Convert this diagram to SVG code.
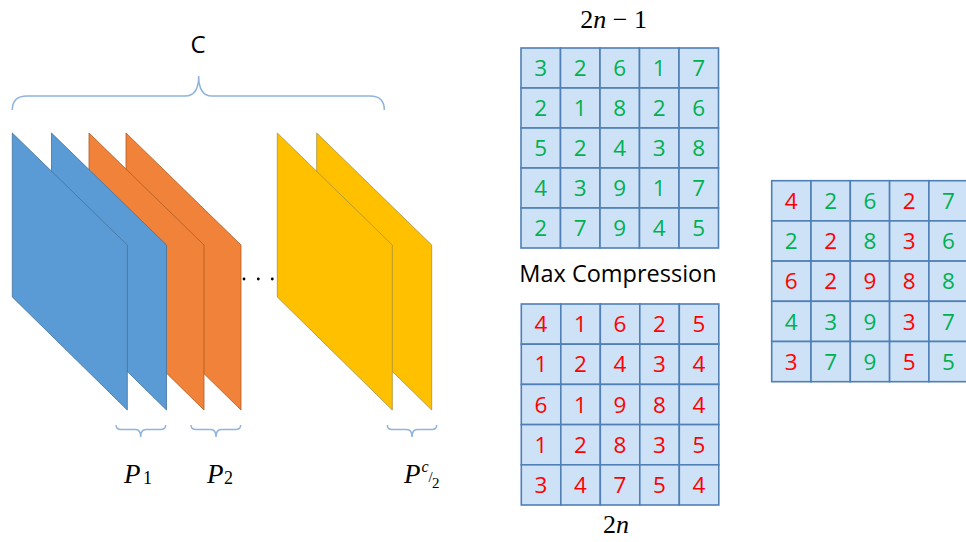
<svg xmlns="http://www.w3.org/2000/svg" width="966" height="542" viewBox="0 0 966 542">
<style>
.lbl{font-family:"Open Sans","Noto Sans","Liberation Sans",sans-serif;fill:#000}
.math{font-family:"Liberation Serif","DejaVu Serif",serif;fill:#000;font-weight:normal}
.it{font-style:italic}
.cell{fill:#cde2f7;stroke:#4f7fb5;stroke-width:1.6}
.d{font-family:"Open Sans","Noto Sans","Liberation Sans",sans-serif;font-size:22.5px;text-anchor:middle}
.g{fill:#00b050}
.r{fill:#ff0000}
.brace{fill:none;stroke:#8fb4de;stroke-width:1.5}
.pb{fill:#5b9bd5;stroke:#41719c;stroke-width:0.8}
.po{fill:#f0823a;stroke:#ae5a21;stroke-width:0.8}
.py{fill:#ffc000;stroke:#a89040;stroke-width:0.8}
</style>
<defs>
<path id="para" d="M0,0 L115,112 L115,277 L0,164 Z"/>
</defs>
<rect width="966" height="542" fill="#fff"/>

<g id="label-C"><text class="lbl" x="198" y="52.5" font-size="24" text-anchor="middle">C</text></g>

<g id="channels">
<g id="yellow2"><use href="#para" x="316.7" y="133" class="py"/></g>
<g id="yellow1"><use href="#para" x="277.3" y="133" class="py"/></g>
<g id="orange2"><use href="#para" x="126" y="133" class="po"/></g>
<g id="orange1"><use href="#para" x="89" y="133" class="po"/></g>
<g id="blue2"><use href="#para" x="51.5" y="133" class="pb"/></g>
<g id="blue1"><use href="#para" x="12.3" y="133" class="pb"/></g>
<g id="dots" fill="#000">
<circle cx="244" cy="279" r="1.4"/><circle cx="258.3" cy="279" r="1.4"/><circle cx="272.3" cy="279" r="1.4"/>
</g>
</g>

<g id="connectors">
<path class="brace" d="M12.3,110 Q12.3,96 27,96 L185,96 Q198.7,96 198.7,76 Q198.7,96 212,96 L370,96 Q384.3,96 384.3,110"/>
<path class="brace" d="M116,425 Q116,429.5 121,429.5 L135.5,429.5 Q140.7,429.5 140.7,437 Q140.7,429.5 146,429.5 L160.5,429.5 Q165.7,429.5 165.7,425"/>
<path class="brace" d="M191,425 Q191,429.5 196,429.5 L210.8,429.5 Q216,429.5 216,437 Q216,429.5 221.2,429.5 L235.5,429.5 Q240.7,429.5 240.7,425"/>
<path class="brace" d="M387.3,425 Q387.3,429.5 392.3,429.5 L406.8,429.5 Q412,429.5 412,437 Q412,429.5 417.2,429.5 L431.7,429.5 Q436.7,429.5 436.7,425"/>
</g>

<g id="label-P1"><text class="math it" x="124" y="483" font-size="27">P</text><text class="math" x="143" y="484" font-size="18">1</text></g>
<g id="label-P2"><text class="math it" x="207" y="483" font-size="27">P</text><text class="math" x="224" y="484" font-size="18">2</text></g>
<g id="label-Pc2"><text class="math it" x="404" y="483" font-size="27">P</text><text class="math it" x="421.5" y="472" font-size="16">c</text><text class="math" x="428.5" y="482" font-size="15">/</text><text class="math" x="432" y="488" font-size="15">2</text></g>

<g id="label-2n-1"><text class="math" x="613.7" y="28" font-size="26" text-anchor="middle">2<tspan class="it">n</tspan> − 1</text></g>
<g id="label-max"><text class="lbl" x="618" y="281.7" font-size="23.5" text-anchor="middle">Max Compression</text></g>
<g id="label-2n"><text class="math" x="616" y="533.3" font-size="26" text-anchor="middle">2<tspan class="it">n</tspan></text></g>

<g id="grid-top">
<rect class="cell" x="521" y="48" width="39.5" height="40"/><rect class="cell" x="560.5" y="48" width="39.5" height="40"/><rect class="cell" x="600" y="48" width="39.5" height="40"/><rect class="cell" x="639.5" y="48" width="39.5" height="40"/><rect class="cell" x="679" y="48" width="39.5" height="40"/>
<rect class="cell" x="521" y="88" width="39.5" height="40"/><rect class="cell" x="560.5" y="88" width="39.5" height="40"/><rect class="cell" x="600" y="88" width="39.5" height="40"/><rect class="cell" x="639.5" y="88" width="39.5" height="40"/><rect class="cell" x="679" y="88" width="39.5" height="40"/>
<rect class="cell" x="521" y="128" width="39.5" height="40"/><rect class="cell" x="560.5" y="128" width="39.5" height="40"/><rect class="cell" x="600" y="128" width="39.5" height="40"/><rect class="cell" x="639.5" y="128" width="39.5" height="40"/><rect class="cell" x="679" y="128" width="39.5" height="40"/>
<rect class="cell" x="521" y="168" width="39.5" height="40"/><rect class="cell" x="560.5" y="168" width="39.5" height="40"/><rect class="cell" x="600" y="168" width="39.5" height="40"/><rect class="cell" x="639.5" y="168" width="39.5" height="40"/><rect class="cell" x="679" y="168" width="39.5" height="40"/>
<rect class="cell" x="521" y="208" width="39.5" height="40"/><rect class="cell" x="560.5" y="208" width="39.5" height="40"/><rect class="cell" x="600" y="208" width="39.5" height="40"/><rect class="cell" x="639.5" y="208" width="39.5" height="40"/><rect class="cell" x="679" y="208" width="39.5" height="40"/>
<g class="d g">
<text x="540.8" y="76">3</text><text x="580.3" y="76">2</text><text x="619.8" y="76">6</text><text x="659.3" y="76">1</text><text x="698.8" y="76">7</text>
<text x="540.8" y="116">2</text><text x="580.3" y="116">1</text><text x="619.8" y="116">8</text><text x="659.3" y="116">2</text><text x="698.8" y="116">6</text>
<text x="540.8" y="156">5</text><text x="580.3" y="156">2</text><text x="619.8" y="156">4</text><text x="659.3" y="156">3</text><text x="698.8" y="156">8</text>
<text x="540.8" y="196">4</text><text x="580.3" y="196">3</text><text x="619.8" y="196">9</text><text x="659.3" y="196">1</text><text x="698.8" y="196">7</text>
<text x="540.8" y="236">2</text><text x="580.3" y="236">7</text><text x="619.8" y="236">9</text><text x="659.3" y="236">4</text><text x="698.8" y="236">5</text>
</g>
</g>

<g id="grid-bottom">
<rect class="cell" x="521.3" y="304" width="39.5" height="40.2"/><rect class="cell" x="560.8" y="304" width="39.5" height="40.2"/><rect class="cell" x="600.3" y="304" width="39.5" height="40.2"/><rect class="cell" x="639.8" y="304" width="39.5" height="40.2"/><rect class="cell" x="679.3" y="304" width="39.5" height="40.2"/>
<rect class="cell" x="521.3" y="344.2" width="39.5" height="40.2"/><rect class="cell" x="560.8" y="344.2" width="39.5" height="40.2"/><rect class="cell" x="600.3" y="344.2" width="39.5" height="40.2"/><rect class="cell" x="639.8" y="344.2" width="39.5" height="40.2"/><rect class="cell" x="679.3" y="344.2" width="39.5" height="40.2"/>
<rect class="cell" x="521.3" y="384.4" width="39.5" height="40.2"/><rect class="cell" x="560.8" y="384.4" width="39.5" height="40.2"/><rect class="cell" x="600.3" y="384.4" width="39.5" height="40.2"/><rect class="cell" x="639.8" y="384.4" width="39.5" height="40.2"/><rect class="cell" x="679.3" y="384.4" width="39.5" height="40.2"/>
<rect class="cell" x="521.3" y="424.6" width="39.5" height="40.2"/><rect class="cell" x="560.8" y="424.6" width="39.5" height="40.2"/><rect class="cell" x="600.3" y="424.6" width="39.5" height="40.2"/><rect class="cell" x="639.8" y="424.6" width="39.5" height="40.2"/><rect class="cell" x="679.3" y="424.6" width="39.5" height="40.2"/>
<rect class="cell" x="521.3" y="464.8" width="39.5" height="40.2"/><rect class="cell" x="560.8" y="464.8" width="39.5" height="40.2"/><rect class="cell" x="600.3" y="464.8" width="39.5" height="40.2"/><rect class="cell" x="639.8" y="464.8" width="39.5" height="40.2"/><rect class="cell" x="679.3" y="464.8" width="39.5" height="40.2"/>
<g class="d r">
<text x="541" y="332.2">4</text><text x="580.5" y="332.2">1</text><text x="620" y="332.2">6</text><text x="659.5" y="332.2">2</text><text x="699" y="332.2">5</text>
<text x="541" y="372.4">1</text><text x="580.5" y="372.4">2</text><text x="620" y="372.4">4</text><text x="659.5" y="372.4">3</text><text x="699" y="372.4">4</text>
<text x="541" y="412.6">6</text><text x="580.5" y="412.6">1</text><text x="620" y="412.6">9</text><text x="659.5" y="412.6">8</text><text x="699" y="412.6">4</text>
<text x="541" y="452.8">1</text><text x="580.5" y="452.8">2</text><text x="620" y="452.8">8</text><text x="659.5" y="452.8">3</text><text x="699" y="452.8">5</text>
<text x="541" y="493">3</text><text x="580.5" y="493">4</text><text x="620" y="493">7</text><text x="659.5" y="493">5</text><text x="699" y="493">4</text>
</g>
</g>

<g id="grid-result">
<rect class="cell" x="771.7" y="180.7" width="39.3" height="40.2"/><rect class="cell" x="811" y="180.7" width="39.3" height="40.2"/><rect class="cell" x="850.3" y="180.7" width="39.3" height="40.2"/><rect class="cell" x="889.6" y="180.7" width="39.3" height="40.2"/><rect class="cell" x="928.9" y="180.7" width="39.3" height="40.2"/>
<rect class="cell" x="771.7" y="220.9" width="39.3" height="40.2"/><rect class="cell" x="811" y="220.9" width="39.3" height="40.2"/><rect class="cell" x="850.3" y="220.9" width="39.3" height="40.2"/><rect class="cell" x="889.6" y="220.9" width="39.3" height="40.2"/><rect class="cell" x="928.9" y="220.9" width="39.3" height="40.2"/>
<rect class="cell" x="771.7" y="261.1" width="39.3" height="40.2"/><rect class="cell" x="811" y="261.1" width="39.3" height="40.2"/><rect class="cell" x="850.3" y="261.1" width="39.3" height="40.2"/><rect class="cell" x="889.6" y="261.1" width="39.3" height="40.2"/><rect class="cell" x="928.9" y="261.1" width="39.3" height="40.2"/>
<rect class="cell" x="771.7" y="301.3" width="39.3" height="40.2"/><rect class="cell" x="811" y="301.3" width="39.3" height="40.2"/><rect class="cell" x="850.3" y="301.3" width="39.3" height="40.2"/><rect class="cell" x="889.6" y="301.3" width="39.3" height="40.2"/><rect class="cell" x="928.9" y="301.3" width="39.3" height="40.2"/>
<rect class="cell" x="771.7" y="341.5" width="39.3" height="40.2"/><rect class="cell" x="811" y="341.5" width="39.3" height="40.2"/><rect class="cell" x="850.3" y="341.5" width="39.3" height="40.2"/><rect class="cell" x="889.6" y="341.5" width="39.3" height="40.2"/><rect class="cell" x="928.9" y="341.5" width="39.3" height="40.2"/>
<g class="d">
<text class="r" x="791.3" y="208.9">4</text><text class="g" x="830.6" y="208.9">2</text><text class="g" x="869.9" y="208.9">6</text><text class="r" x="909.2" y="208.9">2</text><text class="g" x="948.5" y="208.9">7</text>
<text class="g" x="791.3" y="249.1">2</text><text class="r" x="830.6" y="249.1">2</text><text class="g" x="869.9" y="249.1">8</text><text class="r" x="909.2" y="249.1">3</text><text class="g" x="948.5" y="249.1">6</text>
<text class="r" x="791.3" y="289.3">6</text><text class="r" x="830.6" y="289.3">2</text><text class="r" x="869.9" y="289.3">9</text><text class="r" x="909.2" y="289.3">8</text><text class="g" x="948.5" y="289.3">8</text>
<text class="g" x="791.3" y="329.5">4</text><text class="g" x="830.6" y="329.5">3</text><text class="g" x="869.9" y="329.5">9</text><text class="r" x="909.2" y="329.5">3</text><text class="g" x="948.5" y="329.5">7</text>
<text class="r" x="791.3" y="369.7">3</text><text class="g" x="830.6" y="369.7">7</text><text class="g" x="869.9" y="369.7">9</text><text class="r" x="909.2" y="369.7">5</text><text class="g" x="948.5" y="369.7">5</text>
</g>
</g>
</svg>
